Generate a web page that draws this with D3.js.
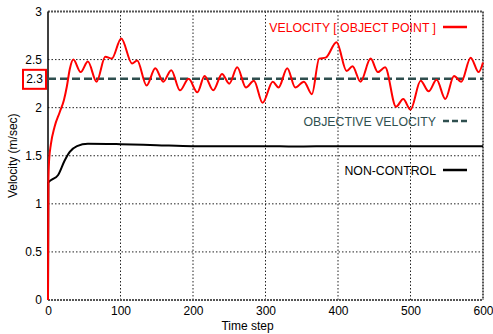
<!DOCTYPE html>
<html>
<head>
<meta charset="utf-8">
<script src="https://cdn.jsdelivr.net/npm/d3@7/dist/d3.min.js"></script>
<style>
  html, body { margin: 0; padding: 0; background: #fff; }
  svg text { font-family: "Liberation Sans", Arial, Helvetica, sans-serif; }
</style>
</head>
<body>
<svg id="chart" width="493" height="334"></svg>
<script>
// Controlled object-point velocity over time
const stepsControl = [0, 0.5, 1.5, 4, 9, 16, 22, 26, 30, 35, 45, 55, 67, 79, 88, 101, 116, 123, 136, 148,
  159, 170, 182, 194, 206, 216, 228, 240, 250, 261, 273, 284, 296, 310, 318, 330, 341, 353, 364, 374,
  383, 398, 412, 420, 431, 445, 455, 465, 480, 490, 500, 514, 525, 536, 548, 560, 570, 583, 594, 600];
const velControl = [0, 1.2, 1.45, 1.62, 1.80, 1.95, 2.08, 2.22, 2.40, 2.50, 2.37, 2.48, 2.27, 2.53, 2.51, 2.72, 2.46, 2.49, 2.23, 2.41,
  2.27, 2.39, 2.18, 2.30, 2.16, 2.33, 2.18, 2.35, 2.25, 2.42, 2.21, 2.28, 2.05, 2.27, 2.21, 2.41, 2.21, 2.27, 2.14, 2.51,
  2.52, 2.68, 2.38, 2.43, 2.27, 2.51, 2.37, 2.42, 2.01, 2.09, 1.98, 2.28, 2.17, 2.29, 2.09, 2.33, 2.27, 2.52, 2.37, 2.47];

// Velocity without control
const stepsFree = [0, 0.5, 5, 14, 23, 30, 40, 55, 100, 150, 200, 300, 340, 400, 500, 600];
const velFree = [0, 1.22, 1.25, 1.30, 1.45, 1.54, 1.60, 1.625, 1.62, 1.61, 1.60, 1.60, 1.595, 1.60, 1.60, 1.60];

const objectiveVelocity = 2.3;

const xTicks = [0, 100, 200, 300, 400, 500, 600];
const yTicks = [0, 0.5, 1, 1.5, 2, 2.5, 3];

const legendLabels = ["VELOCITY [ OBJECT POINT ]", "OBJECTIVE VELOCITY", "NON-CONTROL"];
const xTitle = "Time step";
const yTitle = "Velocity (m/sec)";

const margin = { left: 48, right: 10, top: 11.5, bottom: 34 };
const W = 493, H = 334;
const svg = d3.select("#chart");

const x = d3.scaleLinear().domain([0, 600]).range([margin.left, W - margin.right]);
const y = d3.scaleLinear().domain([0, 3]).range([H - margin.bottom, margin.top]);

const slate = "#2f4f4f";

// grid
const grid = svg.append("g");
grid.selectAll("line.gx").data(xTicks.slice(1, -1)).join("line")
  .attr("x1", d => x(d)).attr("x2", d => x(d))
  .attr("y1", y(0)).attr("y2", y(3))
  .attr("stroke", "#222").attr("stroke-width", 1).attr("stroke-dasharray", "1.5,2");
grid.selectAll("line.gy").data(yTicks.slice(1, -1)).join("line")
  .attr("x1", x(0)).attr("x2", x(600))
  .attr("y1", d => y(d)).attr("y2", d => y(d))
  .attr("stroke", "#222").attr("stroke-width", 1).attr("stroke-dasharray", "1.5,2");

// frame
const frame = svg.append("g");
[[x(0), y(3), x(600), y(3)], [x(600), y(3), x(600), y(0)], [x(0), y(0), x(600), y(0)]].forEach(s => {
  frame.append("line").attr("x1", s[0]).attr("y1", s[1]).attr("x2", s[2]).attr("y2", s[3])
    .attr("stroke", "#555").attr("stroke-width", 2).attr("stroke-dasharray", "2,1");
});
frame.append("line").attr("x1", x(0)).attr("x2", x(0)).attr("y1", y(0)).attr("y2", y(3))
  .attr("stroke", "#000").attr("stroke-width", 1.5);

// axes
const xAxis = d3.axisBottom(x).tickValues(xTicks).tickSize(0).tickPadding(6).tickFormat(d3.format("d"));
const gx = svg.append("g").attr("transform", `translate(0,${y(0)})`).call(xAxis);
gx.select(".domain").remove();
gx.selectAll("text").attr("font-size", 12).attr("fill", "#000");

const yAxis = d3.axisLeft(y).tickValues(yTicks).tickSize(0).tickPadding(6).tickFormat(d => String(d));
const gy = svg.append("g").attr("transform", `translate(${x(0)},0)`).call(yAxis);
gy.select(".domain").remove();
gy.selectAll("text").attr("font-size", 12).attr("fill", "#000");

// objective-velocity marker on the y axis
svg.append("rect").attr("x", 23).attr("y", y(objectiveVelocity) - 9).attr("width", 23).attr("height", 19)
  .attr("fill", "#fff").attr("stroke", "#ff0000").attr("stroke-width", 2);
svg.append("text").attr("x", 34.5).attr("y", y(objectiveVelocity) + 4.5)
  .attr("text-anchor", "middle").attr("font-size", 12).attr("fill", "#000").text(objectiveVelocity);

// axis titles
svg.append("text").attr("x", x(300) - 18).attr("y", 330).attr("text-anchor", "middle")
  .attr("font-size", 12).text(xTitle);
svg.append("text").attr("transform", `translate(17,${y(1.5)}) rotate(-90)`).attr("text-anchor", "middle")
  .attr("font-size", 12).text(yTitle);

// objective velocity line
svg.append("line").attr("x1", x(0)).attr("x2", x(600))
  .attr("y1", y(objectiveVelocity)).attr("y2", y(objectiveVelocity))
  .attr("stroke", slate).attr("stroke-width", 2.5).attr("stroke-dasharray", "8,4");

const line = d3.line().x(d => x(d[0])).y(d => y(d[1])).curve(d3.curveMonotoneX);

svg.append("path").datum(d3.zip(stepsFree, velFree)).attr("d", line)
  .attr("fill", "none").attr("stroke", "#000").attr("stroke-width", 2);
svg.append("path").datum(d3.zip(stepsControl, velControl)).attr("d", line)
  .attr("fill", "none").attr("stroke", "#ff0000").attr("stroke-width", 2);

// legend
const legend = [
  { label: legendLabels[0], color: "#ff0000", text: "#ff0000", dash: null, y: 27 },
  { label: legendLabels[1], color: slate, text: slate, dash: "6,3", y: 121 },
  { label: legendLabels[2], color: "#000", text: "#000", dash: null, y: 170 }
];
const lg = svg.append("g");
legend.forEach(l => {
  lg.append("text").attr("x", 436).attr("y", l.y + 4.5).attr("text-anchor", "end")
    .attr("font-size", 12.3).attr("fill", l.text).text(l.label);
  const s = lg.append("line").attr("x1", 443).attr("x2", 467).attr("y1", l.y).attr("y2", l.y)
    .attr("stroke", l.color).attr("stroke-width", 2.5);
  if (l.dash) s.attr("stroke-dasharray", l.dash);
});
</script>
</body>
</html>
